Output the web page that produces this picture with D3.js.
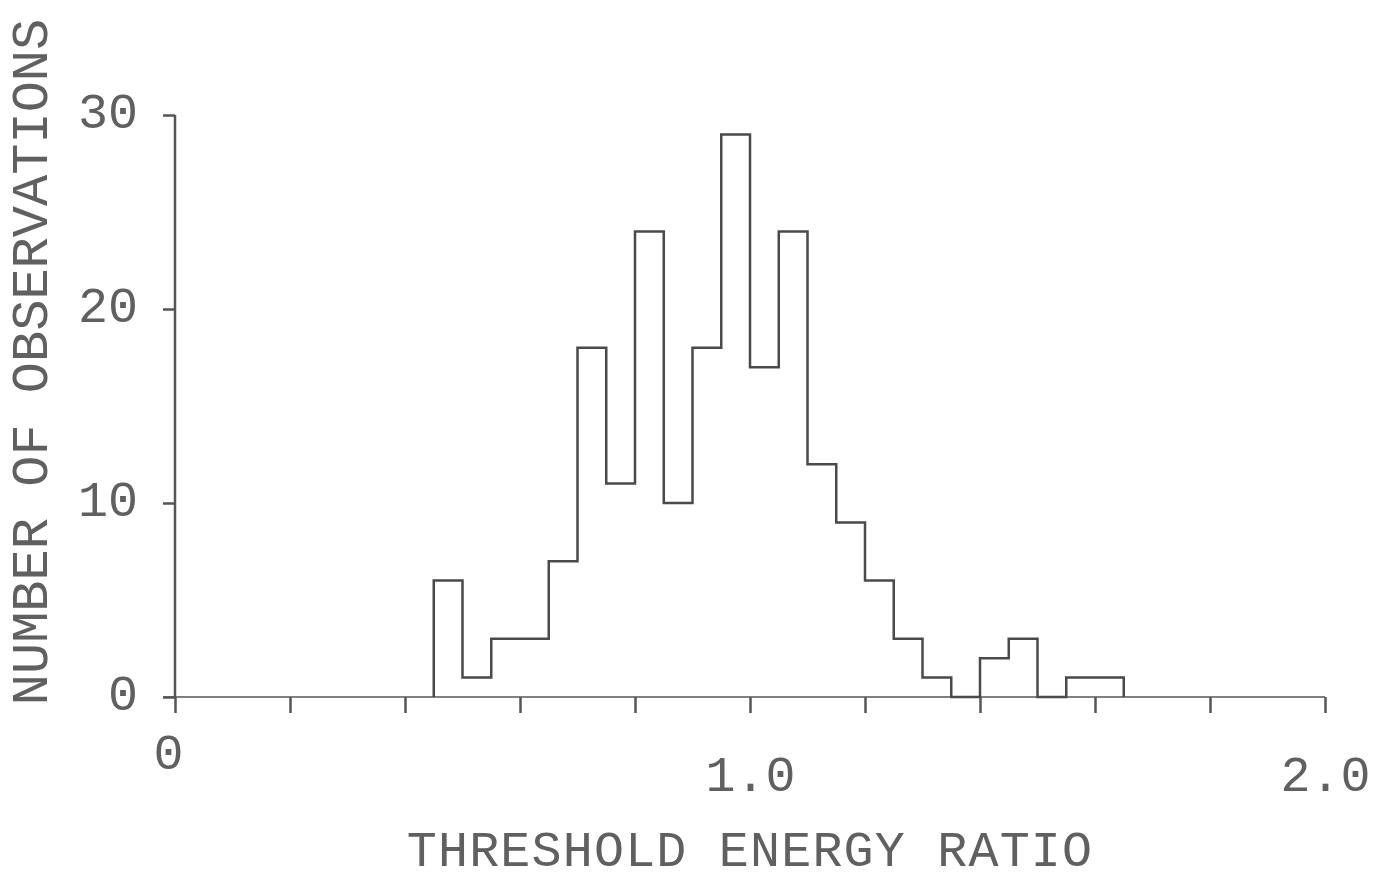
<!DOCTYPE html>
<html>
<head>
<meta charset="utf-8">
<script src="https://cdn.jsdelivr.net/npm/d3@7"></script>
<style>
  html, body { margin: 0; padding: 0; background: #fff; }
  svg text { font-family: "Liberation Mono", "DejaVu Sans Mono", monospace; fill: #606060; }
</style>
</head>
<body>
<svg id="chart" width="1380" height="882"></svg>
<script>
'use strict';

// histogram bins: left edge of each bin (width 0.05) and counts
var binStart = 0.45;
var binWidth = 0.05;
var counts = [6, 1, 3, 3, 7, 18, 11, 24, 10, 18, 29, 17, 24, 12, 9, 6, 3, 1, 0, 2, 3, 0, 1, 1];

var xTicks = [0, 0.2, 0.4, 0.6, 0.8, 1.0, 1.2, 1.4, 1.6, 1.8, 2.0];
var xLabels = { 0: '0', 1: '1.0', 2: '2.0' };
var yTicks = [0, 10, 20, 30];

var xTitle = 'THRESHOLD ENERGY RATIO';
var yTitle = 'NUMBER OF OBSERVATIONS';

var svg = d3.select('#chart');
var x = d3.scaleLinear().domain([0, 2]).range([175, 1325]);
var y = d3.scaleLinear().domain([0, 30]).range([697, 115]);

// x axis (ticks hang below the line)
var xAxis = svg.append('g')
  .attr('transform', 'translate(0,' + y(0) + ')')
  .call(d3.axisBottom(x)
    .tickValues(xTicks)
    .tickSize(16)
    .tickPadding(42)
    .tickFormat(function(d) { return xLabels[d] || ''; }));
xAxis.select('.domain')
  .attr('d', 'M' + (x(0) - 12) + ',0H' + x(2))
  .attr('stroke', '#808080')
  .attr('stroke-width', 2);
xAxis.selectAll('.tick line').attr('stroke', '#555').attr('stroke-width', 2.5);
xAxis.selectAll('.tick text')
  .attr('font-size', 50)
  .attr('font-family', null)
  .attr('fill', null);
xAxis.selectAll('.tick text')
  .filter(function(d) { return d === 0; })
  .attr('x', -7)
  .attr('y', 36);

// y axis (ticks to the left)
var yAxis = svg.append('g')
  .attr('transform', 'translate(' + x(0) + ',0)')
  .call(d3.axisLeft(y)
    .tickValues(yTicks)
    .tickSize(12)
    .tickPadding(25)
    .tickFormat(d3.format('d')));
yAxis.select('.domain')
  .attr('d', 'M0,' + y(0) + 'V' + y(30))
  .attr('stroke', '#555')
  .attr('stroke-width', 2.5);
yAxis.selectAll('.tick line').attr('stroke', '#555').attr('stroke-width', 2.5);
yAxis.selectAll('.tick text')
  .attr('font-size', 50)
  .attr('font-family', null)
  .attr('fill', null)
  .attr('dy', '0.25em');

// histogram outline as one stepped path
var pts = [[binStart, 0]];
counts.forEach(function(c, i) {
  pts.push([binStart + i * binWidth, c]);
});
pts.push([binStart + counts.length * binWidth, 0]);

var step = d3.line()
  .x(function(d) { return x(d[0]); })
  .y(function(d) { return y(d[1]); })
  .curve(d3.curveStepAfter);

svg.append('path')
  .datum(pts)
  .attr('d', step)
  .attr('fill', 'none')
  .attr('stroke', '#4a4a4a')
  .attr('stroke-width', 2.5)
  .attr('stroke-linejoin', 'miter');

// titles
svg.append('text')
  .attr('x', x(1))
  .attr('y', 866)
  .attr('text-anchor', 'middle')
  .attr('font-size', 50)
  .attr('letter-spacing', 1.2)
  .text(xTitle);

svg.append('text')
  .attr('transform', 'translate(47,362) rotate(-90)')
  .attr('text-anchor', 'middle')
  .attr('font-size', 52)
  .text(yTitle);
</script>
</body>
</html>
